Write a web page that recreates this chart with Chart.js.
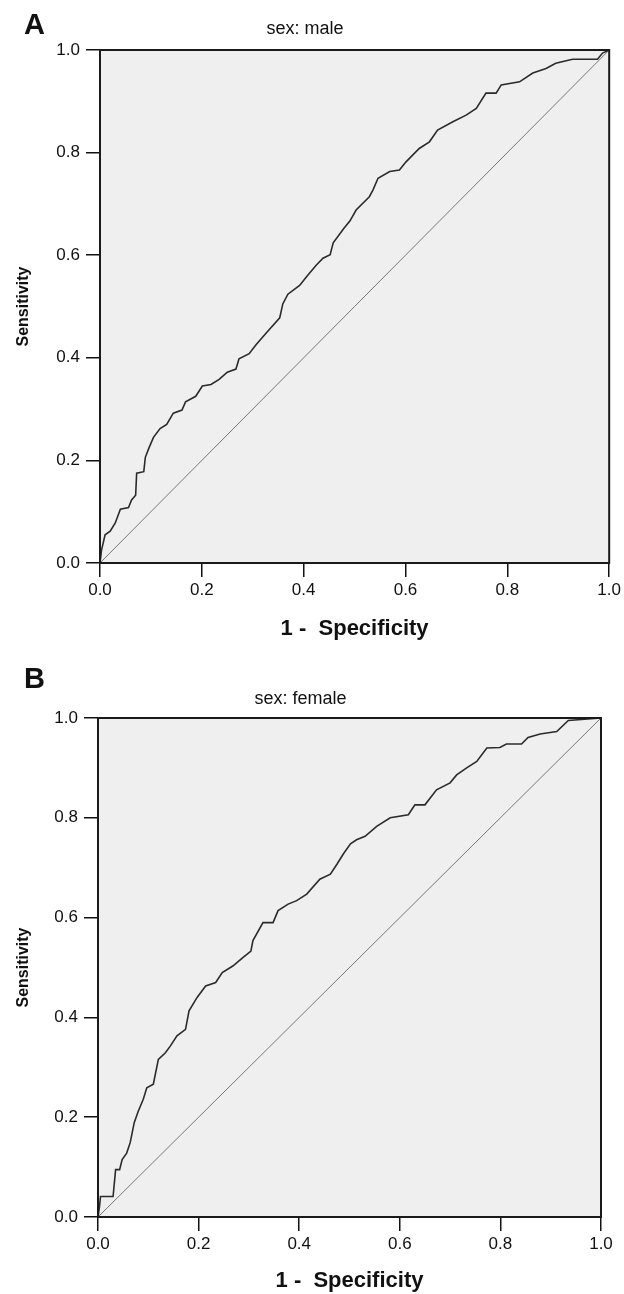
<!DOCTYPE html>
<html>
<head>
<meta charset="utf-8">
<title>ROC curves by sex</title>
<script src="https://cdn.jsdelivr.net/npm/chart.js@4.4.1/dist/chart.umd.min.js"></script>
<style>
  html, body { margin: 0; padding: 0; background: #fff; }
  body { width: 624px; height: 1294px; position: relative; overflow: hidden; font-family: "Liberation Sans", Arial, sans-serif; }
  .panel { position: absolute; left: 0; width: 624px; height: 647px; }
  .panel-letter { position: absolute; left: 24px; font-weight: bold; font-size: 29px; line-height: 1; color: #111; }
</style>
</head>
<body>

<div class="panel" style="top:0"><canvas id="rocMale"></canvas></div>
<div class="panel" style="top:647px"><canvas id="rocFemale"></canvas></div>
<div class="panel-letter" style="top:10px">A</div>
<div class="panel-letter" style="top:664px">B</div>

<script>
// ===========================
// DATA
// ===========================
const tickValues = [0, 0.2, 0.4, 0.6, 0.8, 1.0];

// panel A - sex: male
const fprMale = [0, 0.003, 0.010, 0.020, 0.030, 0.040, 0.056, 0.062, 0.070, 0.072, 0.086, 0.089, 0.096, 0.105, 0.118, 0.131,
  0.144, 0.161, 0.168, 0.188, 0.201, 0.218, 0.234, 0.250, 0.267, 0.273, 0.293, 0.306, 0.326, 0.353, 0.359, 0.369,
  0.392, 0.408, 0.425, 0.438, 0.452, 0.458, 0.478, 0.491, 0.503, 0.529, 0.536, 0.546, 0.569, 0.588, 0.601, 0.627,
  0.647, 0.663, 0.693, 0.719, 0.739, 0.758, 0.778, 0.788, 0.824, 0.850, 0.876, 0.895, 0.928, 0.977, 0.987, 1];
const tprMale = [0, 0.025, 0.055, 0.062, 0.078, 0.105, 0.108, 0.123, 0.132, 0.175, 0.178, 0.206, 0.224, 0.245, 0.262, 0.270,
  0.292, 0.298, 0.314, 0.325, 0.345, 0.348, 0.358, 0.372, 0.378, 0.398, 0.408, 0.425, 0.448, 0.478, 0.505, 0.524,
  0.541, 0.561, 0.581, 0.594, 0.601, 0.624, 0.651, 0.667, 0.688, 0.714, 0.727, 0.750, 0.763, 0.766, 0.782, 0.808,
  0.821, 0.844, 0.860, 0.873, 0.886, 0.916, 0.916, 0.932, 0.938, 0.955, 0.964, 0.974, 0.982, 0.982, 0.994, 1];

// panel B - sex: female
const fprFemale = [0, 0.003, 0.005, 0.030, 0.035, 0.043, 0.048, 0.057, 0.064, 0.072, 0.080, 0.090, 0.097, 0.110, 0.120,
  0.134, 0.144, 0.157, 0.174, 0.181, 0.197, 0.214, 0.234, 0.247, 0.268, 0.288, 0.304, 0.308, 0.328, 0.348, 0.358,
  0.378, 0.395, 0.415, 0.441, 0.462, 0.475, 0.488, 0.502, 0.514, 0.531, 0.554, 0.581, 0.617, 0.630, 0.650, 0.673,
  0.700, 0.713, 0.733, 0.753, 0.773, 0.799, 0.812, 0.842, 0.855, 0.879, 0.912, 0.935, 1];
const tprFemale = [0, 0.021, 0.041, 0.041, 0.095, 0.095, 0.115, 0.128, 0.149, 0.189, 0.212, 0.236, 0.259, 0.266, 0.316,
  0.329, 0.343, 0.363, 0.376, 0.413, 0.440, 0.463, 0.470, 0.490, 0.503, 0.520, 0.533, 0.554, 0.590, 0.590, 0.614,
  0.627, 0.634, 0.647, 0.677, 0.687, 0.707, 0.728, 0.748, 0.756, 0.763, 0.783, 0.800, 0.806, 0.826, 0.826, 0.856,
  0.870, 0.886, 0.900, 0.913, 0.940, 0.941, 0.948, 0.948, 0.961, 0.968, 0.973, 0.995, 1];

// reference (chance) line
const diagX = [0, 1];
const diagY = [0, 1];

// ===========================
// PLOT FRAME PLUGIN
// grey plot background + black box
// ===========================
const frame = {
  id: 'frame',
  beforeDatasetsDraw(chart) {
    const { ctx, chartArea: a } = chart;
    ctx.save();
    ctx.fillStyle = '#efefef';
    ctx.fillRect(a.left, a.top, a.right - a.left, a.bottom - a.top);
    ctx.restore();
  },
  afterDraw(chart) {
    const { ctx, chartArea: a } = chart;
    ctx.save();
    ctx.strokeStyle = '#1a1a1a';
    ctx.lineWidth = 2;
    ctx.strokeRect(a.left, a.top, a.right - a.left, a.bottom - a.top);
    ctx.restore();
  }
};

const pts = (xs, ys) => xs.map((x, i) => ({ x, y: ys[i] }));

// ===========================
// BUILD ONE ROC PANEL
// ===========================
function makeRoc(id, title, fpr, tpr, lay) {
  const canvas = document.getElementById(id);
  return new Chart(canvas, {
    type: 'scatter',
    data: {
      datasets: [
        {
          data: pts(fpr, tpr),
          showLine: true,
          borderColor: '#2b2b2b',
          borderWidth: 1.6,
          pointRadius: 0,
          tension: 0
        },
        {
          data: pts(diagX, diagY),
          showLine: true,
          borderColor: '#6a6a6a',
          borderWidth: 0.9,
          pointRadius: 0
        }
      ]
    },
    options: {
      responsive: true,
      maintainAspectRatio: false,
      animation: false,
      layout: { padding: { left: 0, right: lay.right, top: 0, bottom: 0 } },
      plugins: {
        legend: { display: false },
        tooltip: { enabled: false },
        title: {
          display: true,
          text: title,
          color: '#111',
          font: { family: 'Liberation Sans', size: 18, weight: 'normal' },
          padding: { top: lay.titleTop, bottom: lay.titleBottom }
        }
      },
      scales: {
        x: {
          type: 'linear', min: 0, max: 1, offset: false,
          afterBuildTicks: s => { s.ticks = tickValues.map(v => ({ value: v })); },
          afterFit: s => { s.height = lay.xHeight; },
          ticks: {
            color: '#111', padding: 3,
            font: { family: 'Liberation Sans', size: 17 },
            callback: v => v.toFixed(1)
          },
          grid: { drawOnChartArea: false, drawTicks: true, tickLength: 14, tickColor: '#111', lineWidth: 1.5 },
          border: { display: false },
          title: {
            display: true, text: '1 -  Specificity', color: '#111',
            font: { family: 'Liberation Sans', size: 22, weight: 'bold' },
            padding: { top: 4, bottom: lay.xTitleBottom }
          }
        },
        y: {
          type: 'linear', min: 0, max: 1,
          afterBuildTicks: s => { s.ticks = tickValues.map(v => ({ value: v })); },
          afterFit: s => { s.width = lay.left; },
          ticks: {
            color: '#111', padding: 6,
            font: { family: 'Liberation Sans', size: 17 },
            callback: v => v.toFixed(1)
          },
          grid: { drawOnChartArea: false, drawTicks: true, tickLength: 14, tickColor: '#111', lineWidth: 1.5 },
          border: { display: false },
          title: {
            display: true, text: 'Sensitivity', color: '#111',
            font: { family: 'Liberation Sans', size: 16, weight: 'bold' },
            padding: { top: 14, bottom: 0 }
          }
        }
      }
    },
    plugins: [frame]
  });
}

makeRoc('rocMale', 'sex: male', fprMale, tprMale,
  { left: 100, right: 14, titleTop: 18, titleBottom: 10.4, xHeight: 84, xTitleBottom: 5 });

makeRoc('rocFemale', 'sex: female', fprFemale, tprFemale,
  { left: 98, right: 23, titleTop: 41, titleBottom: 8.4, xHeight: 77, xTitleBottom: 0 });
</script>
</body>
</html>
